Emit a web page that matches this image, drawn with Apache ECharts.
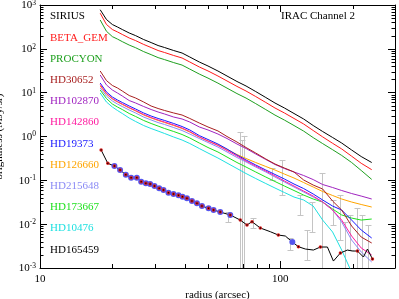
<!DOCTYPE html>
<html><head><meta charset="utf-8">
<script src="https://cdn.jsdelivr.net/npm/echarts/dist/echarts.min.js"></script>
<style>html,body{margin:0;padding:0;background:#fff}#c{width:399px;height:299px}</style>
</head><body><div id="c"></div>
<script>
// ---- data ----
const radius = [17.8,18.9,20,21,22,23.5,25,27,29,31,33,36,39,42,46,50,55,60,66,72,79,87,95,104,114,125,137,150,165,180,198,217,240];
const sirius   = [780,467,359,315,276,230,200,163,139,119,107,91.5,80.3,65.1,50.1,40.6,31.2,24.0,18.0,14.2,10.6,7.76,5.81,4.47,3.35,2.51,1.78,1.30,0.949,0.710,0.492,0.349,0.255];
const betaGem  = [650,360,276,243,213,177,154,126,107,91.6,82.4,70.5,61.8,50.1,38.6,31.3,24.0,18.5,13.9,10.9,8.16,5.98,4.47,3.44,2.58,1.93,1.37,0.98,0.70,0.52,0.355,0.245,0.175];
const procyon  = [455,252,190,167,146,122,106,86.4,73.7,63.1,56.7,48.5,42.6,34.5,26.6,21.5,16.5,12.7,9.54,7.53,5.62,4.11,3.08,2.37,1.78,1.33,0.943,0.689,0.50,0.37,0.255,0.168,0.105];
const hd30652  = [31.2,18.9,14.6,12.8,10.9,8.61,7.55,6.12,4.96,4.35,3.92,3.44,3.09,2.58,2.03,1.65,1.34,1.00,0.748,0.561,0.420,0.307,0.236,0.191,0.155,0.102,0.0781,0.0634,0.0337,0.0210,0.00908,0.00509,0.00372];
const hd102870 = [25.3,15.0,11.5,9.83,8.39,6.62,5.81,4.83,4.13,3.62,3.26,2.78,2.51,2.14,1.65,1.41,1.14,0.90,0.674,0.532,0.399,0.299,0.230,0.186,0.155,0.129,0.104,0.0803,0.0686,0.0586,0.050,0.0438,0.0375];
const hd142860 = [15.3,9.57,7.36,6.29,5.51,4.58,3.92,3.18,2.71,2.38,2.14,1.83,1.56,1.30,0.973,0.789,0.623,0.479,0.359,0.276,0.212,0.163,0.126,0.0966,0.0741,0.0570,0.0438,0.032,0.021,0.0124,0.00537,0.00286,0.00198];
const hd19373  = [16.6,10.4,7.96,6.81,5.97,4.97,4.24,3.44,2.93,2.58,2.32,1.98,1.69,1.41,1.05,0.854,0.674,0.519,0.378,0.291,0.224,0.172,0.136,0.107,0.0824,0.0650,0.0488,0.0356,0.0259,0.0210,0.0124,0.00736,0.00483];
const hd126660 = [14.2,9.31,7.16,6.12,5.37,4.47,3.82,3.09,2.64,2.32,2.08,1.78,1.52,1.26,0.973,0.789,0.640,0.505,0.388,0.315,0.255,0.207,0.172,0.139,0.113,0.0891,0.0704,0.0556,0.0451,0.0375,0.032,0.0281,0.0246];
const hd215648 = [12.8,8.39,6.46,5.51,4.83,4.02,3.44,2.78,2.38,2.08,1.88,1.60,1.37,1.14,0.90,0.730,0.575,0.443,0.332,0.262,0.201,0.155,0.119,0.0916,0.0704,0.0542,0.0416,0.032,0.021,0.0112,0.00435,0.00232,0.00137];
const hd173667 = [11.5,7.36,5.51,4.71,4.13,3.35,2.86,2.32,1.98,1.73,1.52,1.30,1.11,0.925,0.710,0.561,0.443,0.340,0.255,0.201,0.155,0.119,0.094,0.0741,0.0586,0.0462,0.0375,0.032,0.0222,0.0162,0.0138,0.0124,0.0131];
const hd10476  = [9.83,6.12,4.71,3.92,3.35,2.64,2.20,1.78,1.52,1.33,1.17,0.973,0.832,0.692,0.532,0.420,0.323,0.248,0.186,0.143,0.110,0.0846,0.0668,0.0527,0.0416,0.0356,0.0259,0.0124,0.00662,0.00257,0.0008,null,null];

const hdRad = [17.96,19.15,20.40,21.54,22.76,23.94,25.29,26.36,27.57,28.73,29.95,31.32,32.64,34.24,35.93,37.70,39.17,40.86,42.87,44.98,47.19,50.27,52.74,56.23,61.90,68.13,72.65,76.23,82.54,90.85,98.1,104.9,112.2,118.9,127.1,137.3,146.8,157.0,166.3,177.8,190.2,199.5,209.3,221.7,230.4,241.7];
const hdVal = [0.492,0.244,0.212,0.172,0.134,0.115,0.115,0.0931,0.0855,0.0824,0.0741,0.0658,0.0601,0.0522,0.0488,0.0455,0.0423,0.0389,0.0337,0.0299,0.0259,0.0230,0.0210,0.0189,0.0162,0.0124,0.00957,0.0114,0.00817,0.00673,0.00565,0.00537,0.00392,0.00306,0.00271,0.00257,0.00301,0.00301,0.00144,0.00220,0.00257,0.00244,0.00244,0.00178,0.00271,0.0016];

const errR  = [67.8,69.4,70.8,60.7,77.2,92.6,102,110,121,129.6,135.6,149.2,166,177.8,186.6,195.7,209,219.6,232.6];
const errHi = [1.26,0.83,1.03,0.0189,0.0138,0.191,0.291,0.00483,0.0462,0.00736,0.032,0.147,0.0356,0.0462,0.0112,0.0162,0.0233,0.0162,0.00957];
const errLo = [0.001,0.001,0.001,0.0112,0.00817,0.102,0.0462,0.00257,0.0162,0.00152,0.00662,0.001,0.00957,0.00435,0.001,0.00257,0.001,0.001,0.001];

const names = ['SIRIUS','BETA_GEM','PROCYON','HD30652','HD102870','HD142860','HD19373','HD126660','HD215648','HD173667','HD10476','HD165459'];
const xMinorTicks = [20,30,40,50,60,70,80,90,200];
const yDecades = [0.001,0.01,0.1,1,10,100];
const yMinorMult = [2,3,4,5,6,7,8,9];

// ---- styles ----
const colors = ['#000000','#ff1a1a','#1fa01f','#a82020','#a024c0','#ff1aa0','#1a1aff','#ffa500','#8a8af5','#1ee01e','#1ee0e0','#000000'];
const FONT = '"Liberation Serif", "Times New Roman", serif';

const curveData = [sirius,betaGem,procyon,hd30652,hd102870,hd142860,hd19373,hd126660,hd215648,hd173667,hd10476];
const drawOrder = [10,9,8,7,6,5,4,3,2,1,0];

const series = [];
series.push({
  type:'custom', silent:true, z:1, clip:true,
  data: errR.map((r,i)=>[r, errLo[i], errHi[i]]),
  encode:{x:0, y:[1,2]},
  renderItem:(params, api)=>{
    const hi = api.coord([api.value(0), api.value(2)]);
    const lo = api.coord([api.value(0), api.value(1)]);
    const x = Math.round(hi[0]) + 0.5;
    const st = {stroke:'#c4c4c4', lineWidth:1};
    const ch = [{type:'line', shape:{x1:x,y1:hi[1],x2:x,y2:lo[1]}, style:st},
                {type:'line', shape:{x1:x-3,y1:Math.round(hi[1])+0.5,x2:x+3,y2:Math.round(hi[1])+0.5}, style:st}];
    if (api.value(1) > 0.001) ch.push({type:'line', shape:{x1:x-3,y1:Math.round(lo[1])+0.5,x2:x+3,y2:Math.round(lo[1])+0.5}, style:st});
    return {type:'group', children:ch};
  }
});
drawOrder.forEach(i=>{
  series.push({
    type:'line', name:names[i], data: radius.map((r,k)=>[r, curveData[i][k]]),
    showSymbol:false, symbol:'none', clip:true, z:2,
    lineStyle:{color:colors[i], width:1}, itemStyle:{color:colors[i]}
  });
});
series.push({type:'line', data: hdRad.map((r,k)=>[r,hdVal[k]]), symbol:'none', clip:true, z:3,
  lineStyle:{color:'#000', width:1}});
series.push({type:'scatter', data: hdRad.map((r,k)=>[r,hdVal[k]]).filter((d,k)=>k>=2 && k<=24 || k===32),
  symbol:'circle', symbolSize:6, itemStyle:{color:'#5555ee', opacity:1}, z:4});
series.push({type:'scatter', data: hdRad.map((r,k)=>[r,hdVal[k]]).filter((d,k)=>k<=28 || k%3===0),
  symbol:'circle', symbolSize:3.5, itemStyle:{color:'#dd1c1c', opacity:1}, z:5});
series.push({type:'scatter', data: hdRad.map((r,k)=>[r,hdVal[k]]).filter((d,k)=>k<=28 || k%3===0),
  symbol:'circle', symbolSize:1.5, itemStyle:{color:'#000', opacity:1}, z:6});

series.push({
  type:'custom', silent:true, z:10, clip:false,
  data: xMinorTicks.map(v=>[v,1]), encode:{x:0,y:1},
  renderItem:(params, api)=>{
    const cs = params.coordSys; const p = api.coord([api.value(0),1]);
    const x = Math.round(p[0]) + 0.5; const b = cs.y+cs.height, t = cs.y;
    const st = {stroke:'#000', lineWidth:1};
    return {type:'group', children:[
      {type:'line', shape:{x1:x,y1:b,x2:x,y2:b-4}, style:st},
      {type:'line', shape:{x1:x,y1:t,x2:x,y2:t+4}, style:st}]};
  }
});
const yMinor = [];
yDecades.forEach(d=>yMinorMult.forEach(m=>yMinor.push(d*m)));
series.push({
  type:'custom', silent:true, z:10, clip:false,
  data: yMinor.map(v=>[20,v]), encode:{x:0,y:1},
  renderItem:(params, api)=>{
    const cs = params.coordSys; const p = api.coord([20, api.value(1)]);
    const y = Math.round(p[1]) + 0.5; const l = cs.x, r = cs.x+cs.width;
    const st = {stroke:'#000', lineWidth:1};
    return {type:'group', children:[
      {type:'line', shape:{x1:l,y1:y,x2:l+3.5,y2:y}, style:st},
      {type:'line', shape:{x1:r,y1:y,x2:r-3.5,y2:y}, style:st}]};
  }
});

const isPow = v => Math.abs(Math.log10(v) - Math.round(Math.log10(v))) < 1e-6;
const axisCommon = {
  axisLine:{show:true, lineStyle:{color:'#000', width:1}},
  axisTick:{show:true, inside:true, length:7, lineStyle:{color:'#000', width:1}},
  splitLine:{show:false}, minorTick:{show:false}
};
const option = {
  animation:false, backgroundColor:'#fff',
  grid:{left:40, right:4, top:5, bottom:31, containLabel:false, outerBoundsMode:'none'},
  xAxis:[
    Object.assign({type:'log', logBase:10, min:10, max:300, position:'bottom',
      axisLabel:{show:true, margin:6, color:'#000', fontFamily:FONT, fontSize:11, showMaxLabel:false,
        formatter:v=> isPow(v) ? String(Math.round(v)) : ''},
      name:'radius (arcsec)', nameLocation:'middle', nameGap:14,
      nameTextStyle:{color:'#000', fontFamily:FONT, fontSize:11}}, axisCommon),
    Object.assign({type:'log', logBase:10, min:10, max:300, position:'top', axisLabel:{show:false}}, axisCommon)
  ],
  yAxis:[
    Object.assign({type:'log', logBase:10, min:0.001, max:1000, position:'left',
      axisLabel:{show:true, margin:4, color:'#000', fontFamily:FONT,
        formatter:v=>{ const e = Math.round(Math.log10(v)); return '{b|10}{e|' + e + '}'; },
        rich:{ b:{fontSize:11, fontFamily:FONT, color:'#000', lineHeight:12, verticalAlign:'bottom'},
               e:{fontSize:7.5, fontFamily:FONT, color:'#000', lineHeight:9, verticalAlign:'top'} }},
      name:'brightness (MJy/sr)', nameLocation:'middle', nameGap:35, nameMoveOverlap:false,
      nameTextStyle:{color:'#000', fontFamily:FONT, fontSize:11}}, axisCommon),
    Object.assign({type:'log', logBase:10, min:0.001, max:1000, position:'right', axisLabel:{show:false}}, axisCommon)
  ],
  graphic: names.map((n,i)=>({type:'text', left:50, top:11 + i*21.2, silent:true, z:100,
      style:{text:n, fill:colors[i], font:'11px ' + FONT}}))
    .concat([{type:'text', left:281, top:11, silent:true, z:100, style:{text:'IRAC Channel 2', fill:'#000', font:'11px ' + FONT}}]),
  series: series
};
const chart = echarts.init(document.getElementById('c'));
chart.setOption(option);
</script>
</body></html>
